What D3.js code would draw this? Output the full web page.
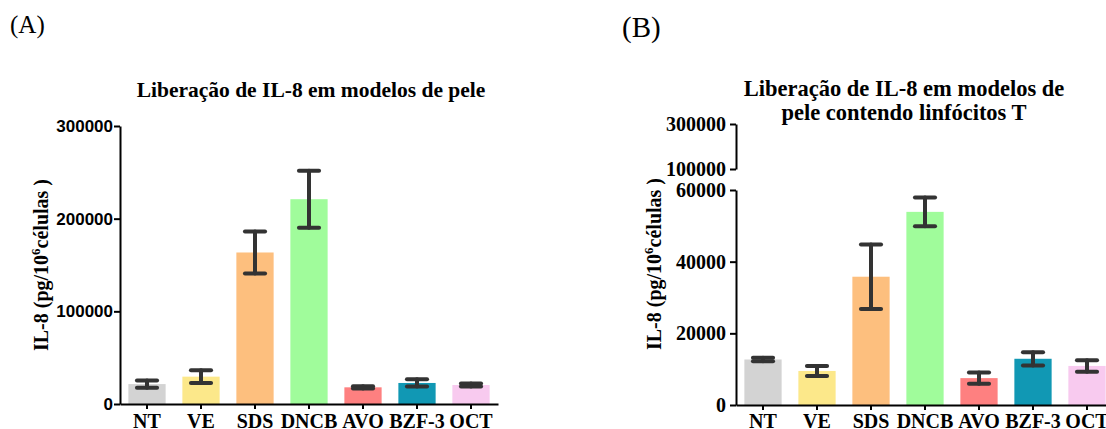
<!DOCTYPE html>
<html>
  <head>
    <meta charset="utf-8">
    <script src="https://d3js.org/d3.v7.min.js"></script>
    <style>
      body { margin: 0; background: #fff; }
      .serif { font-family: "Liberation Serif", "Times New Roman", serif; font-weight: bold; fill: #000; }
      .panel-label { font-family: "Liberation Serif", "Times New Roman", serif; fill: #000; }
      .axis path, .axis line { stroke: #000; stroke-width: 2; }
      .axis-a .tick text { font-family: "Liberation Sans", Arial, sans-serif; font-weight: bold; font-size: 17px; fill: #000; }
      .axis-b .tick text { font-family: "Liberation Serif", "Times New Roman", serif; font-weight: bold; font-size: 20px; fill: #000; }
      .x-axis .tick text { font-family: "Liberation Serif", "Times New Roman", serif; font-weight: bold; font-size: 20px; fill: #000; }
      .err { stroke: #333; stroke-width: 4; stroke-linecap: round; fill: none; }
    </style>
  </head>
  <body>
    <svg width="1106" height="429"></svg>
    <script>
      const categories = ["NT", "VE", "SDS", "DNCB", "AVO", "BZF-3", "OCT"];
      const colors = ["#d3d3d3", "#fce88a", "#fdbf7e", "#a0fc9b", "#fe8080", "#1198b4", "#f8caef"];

      // panel A: IL-8 in skin models
      const meansA = [21500, 29500, 163500, 221000, 18000, 22700, 20500];
      const errA = [3900, 6800, 22700, 30700, 1200, 3900, 1500];
      const ticksA = [0, 100000, 200000, 300000];

      // panel B: skin models with T lymphocytes (broken axis)
      const meansB = [12700, 9500, 35800, 53900, 7500, 12900, 10900];
      const errB = [500, 1400, 9000, 4000, 1550, 1850, 1600];
      const ticksBLow = [0, 20000, 40000, 60000];
      const ticksBHigh = [100000, 300000];

      const svg = d3.select("svg");

      svg.append("text").attr("class", "panel-label")
        .attr("x", 10).attr("y", 33).attr("font-size", 25).text("(A)");
      svg.append("text").attr("class", "panel-label")
        .attr("x", 622).attr("y", 37).attr("font-size", 29).text("(B)");

      function yTitle(g, x, y) {
        const t = g.append("text").attr("class", "serif")
          .attr("transform", `translate(${x},${y}) rotate(-90)`)
          .attr("text-anchor", "middle")
          .attr("font-size", 20);
        t.append("tspan").text("IL-8 (pg/10");
        t.append("tspan").attr("font-size", 13).attr("dy", -8).text("6");
        t.append("tspan").attr("dy", 8).text("células )");
      }

      function drawBars(g, x, y, means, errs) {
        const bars = g.selectAll(".bar")
          .data(categories)
          .enter().append("g");

        bars.append("rect")
          .attr("x", d => x(d))
          .attr("width", x.bandwidth())
          .attr("y", (d, i) => y(means[i]))
          .attr("height", (d, i) => y(0) - y(means[i]))
          .attr("fill", (d, i) => colors[i]);

        const cap = x.bandwidth() * 0.27;
        bars.each(function (d, i) {
          const cx = x(d) + x.bandwidth() / 2;
          const hi = y(means[i] + errs[i]);
          const lo = y(means[i] - errs[i]);
          const e = d3.select(this);
          e.append("line").attr("class", "err")
            .attr("x1", cx).attr("x2", cx).attr("y1", hi).attr("y2", lo);
          e.append("line").attr("class", "err")
            .attr("x1", cx - cap).attr("x2", cx + cap).attr("y1", hi).attr("y2", hi);
          e.append("line").attr("class", "err")
            .attr("x1", cx - cap).attr("x2", cx + cap).attr("y1", lo).attr("y2", lo);
        });
      }

      // ---- panel A ----
      const gA = svg.append("g");
      const xA = d3.scaleBand().domain(categories).range([120, 498])
        .paddingInner(0.31).paddingOuter(0.155);
      const yA = d3.scaleLinear().domain([0, 300000]).range([404, 126]);

      gA.append("text").attr("class", "serif")
        .attr("x", 311).attr("y", 97).attr("text-anchor", "middle")
        .attr("font-size", 21.5).text("Liberação de IL-8 em modelos de pele");
      yTitle(gA, 48, 265);

      drawBars(gA, xA, yA, meansA, errA);

      gA.append("g").attr("class", "axis axis-a")
        .attr("transform", "translate(120,0)")
        .call(d3.axisLeft(yA).tickValues(ticksA).tickSize(6).tickSizeOuter(0).tickPadding(1).tickFormat(d3.format("d")));
      gA.append("g").attr("class", "axis x-axis")
        .attr("transform", "translate(0,404)")
        .call(d3.axisBottom(xA).tickSize(5).tickSizeOuter(0).tickPadding(5));

      // ---- panel B ----
      const gB = svg.append("g");
      const xB = d3.scaleBand().domain(categories).range([736, 1114])
        .paddingInner(0.31).paddingOuter(0.155);
      const yB = d3.scaleLinear().domain([0, 60000]).range([405, 190]);
      const yBHigh = d3.scaleLinear().domain([100000, 300000]).range([169, 124]);

      gB.append("text").attr("class", "serif")
        .attr("x", 904).attr("y", 96).attr("text-anchor", "middle")
        .attr("font-size", 22.5).text("Liberação de IL-8 em modelos de");
      gB.append("text").attr("class", "serif")
        .attr("x", 904).attr("y", 120).attr("text-anchor", "middle")
        .attr("font-size", 22.5).text("pele contendo linfócitos T");
      yTitle(gB, 661, 264);

      drawBars(gB, xB, yB, meansB, errB);

      gB.append("g").attr("class", "axis axis-b")
        .attr("transform", "translate(736,0)")
        .call(d3.axisLeft(yB).tickValues(ticksBLow).tickSize(6).tickSizeOuter(0).tickPadding(4).tickFormat(d3.format("d")));
      gB.append("g").attr("class", "axis axis-b")
        .attr("transform", "translate(736,0)")
        .call(d3.axisLeft(yBHigh).tickValues(ticksBHigh).tickSize(6).tickSizeOuter(0).tickPadding(4).tickFormat(d3.format("d")));
      gB.append("g").attr("class", "axis x-axis")
        .attr("transform", "translate(0,405)")
        .call(d3.axisBottom(xB).tickSize(5).tickSizeOuter(0).tickPadding(4));
    </script>
  </body>
</html>
